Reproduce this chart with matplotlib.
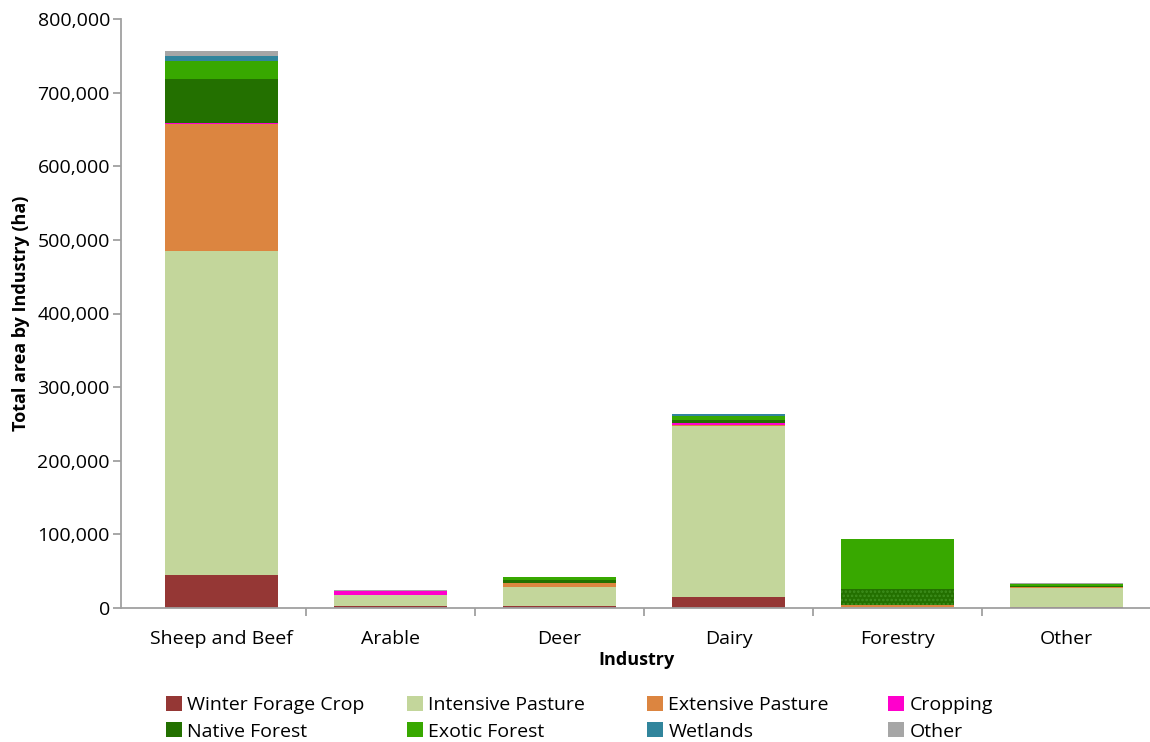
import matplotlib
matplotlib.use("Agg")
import matplotlib.pyplot as plt
import numpy as np
from matplotlib.ticker import FuncFormatter
from matplotlib.patches import Patch

plt.rcParams['font.family'] = ['Open Sans', 'DejaVu Sans']
plt.rcParams['hatch.linewidth'] = 1.2

industries = ["Sheep and Beef", "Arable", "Deer", "Dairy", "Forestry", "Other"]

land_uses = ["Winter Forage Crop", "Intensive Pasture", "Extensive Pasture", "Cropping",
             "Native Forest", "Exotic Forest", "Wetlands", "Other"]

winter_forage = [45000, 2500, 2500, 15000, 500, 1500]
intensive_pasture = [440000, 15500, 25500, 232000, 1000, 25000]
extensive_pasture = [172000, 300, 6500, 1500, 2000, 2500]
cropping = [2000, 5000, 0, 2500, 0, 0]
native_forest = [60000, 200, 3000, 4000, 22000, 1500]
exotic_forest = [24000, 200, 4500, 6000, 68000, 2000]
wetlands = [6500, 0, 300, 2500, 300, 300]
other = [6500, 200, 300, 500, 300, 500]

series = [winter_forage, intensive_pasture, extensive_pasture, cropping,
          native_forest, exotic_forest, wetlands, other]
colors = ["#953735", "#C3D69B", "#DC8540", "#FF00CC",
          "#237000", "#38A800", "#31859C", "#A6A6A6"]

W, H = 1150, 742
fig = plt.figure(figsize=(W / 100, H / 100), dpi=100)
ax = fig.add_axes([121 / W, 1 - 608 / H, (1151 - 121) / W, (608 - 19) / H])

x = np.arange(len(industries))
width = 0.67
bottom = np.zeros(len(industries))
for name, vals, col in zip(land_uses, series, colors):
    vals = np.array(vals, dtype=float)
    bars = ax.bar(x, vals, width, bottom=bottom, color=col, label=name,
                  edgecolor='none', linewidth=0, zorder=2)
    if name == "Native Forest":
        # plantation block shown with a dotted fill
        fb = bars[industries.index("Forestry")]
        fb.set_hatch('....')
        fb.set_edgecolor('#3E8E1E')
        fb.set_linewidth(0)
    bottom += vals

ax.set_xlim(-0.595, len(industries) - 0.5)
ax.set_ylim(0, 800000)
ax.yaxis.set_major_formatter(FuncFormatter(lambda v, p: f"{int(v):,}"))
ax.set_yticks(np.arange(0, 800001, 100000))

ax.set_xticks(x)
ax.set_xticklabels(industries)
ax.set_xticks(np.arange(0.5, len(industries), 1), minor=True)
ax.tick_params(axis='x', which='major', length=0, labelsize=14, pad=16, colors='black')
ax.tick_params(axis='x', which='minor', length=6, width=1.3, color='#A0A0A0')
ax.tick_params(axis='y', length=6, width=1.3, color='#A0A0A0', labelsize=14, pad=2)

for s in ['top', 'right']:
    ax.spines[s].set_visible(False)
for s in ['left', 'bottom']:
    ax.spines[s].set_color('#A0A0A0')
    ax.spines[s].set_linewidth(1.3)

ax.set_xlabel("Industry", fontsize=13, fontweight='bold', labelpad=2)
ax.set_ylabel("Total area by Industry (ha)", fontsize=13, fontweight='bold', labelpad=5)

# legend laid out row-wise in four fixed columns
col_left = [166, 407, 647, 888]
for j, left in enumerate(col_left):
    idx = [j, j + 4]
    handles = [Patch(facecolor=colors[i], edgecolor='none') for i in idx]
    fig.legend(handles, [land_uses[i] for i in idx], loc='upper left',
               bbox_to_anchor=(left / W, 1 - 696 / H), frameon=False, fontsize=14,
               handlelength=0.8, handleheight=0.8, handletextpad=0.3,
               labelspacing=0.42, borderpad=0, borderaxespad=0)

fig.savefig("out.png", dpi=100)
